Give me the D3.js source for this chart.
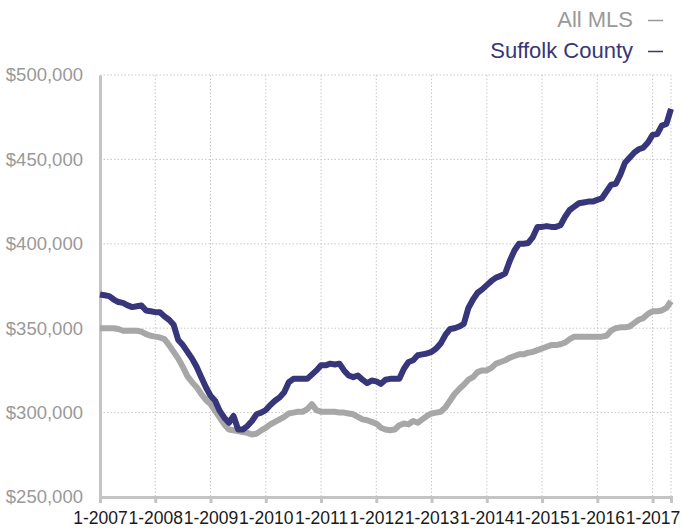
<!DOCTYPE html>
<html>
<head>
<meta charset="utf-8">
<script src="https://cdn.jsdelivr.net/npm/d3@7"></script>
<style>
  body { margin: 0; background: #fff; }
  svg { display: block; font-family: "Liberation Sans", Arial, sans-serif; }
  .grid line { stroke: #c8c8c8; stroke-width: 1; stroke-dasharray: 1.5,2; }
</style>
</head>
<body>
<svg id="chart"></svg>
<script>
const width = 682;
const height = 531;

// monthly median price, Jan 2007 .. May 2017 (in $1000s)
const suffolk = [
  370, 369.5, 369, 367, 365.5, 365, 363.5, 362.5, 363, 363.5, 360.5, 360,
  359.5, 359.5, 357, 355, 352, 343, 340, 336, 332, 327, 321, 315,
  310, 307, 301, 297, 294, 298, 290, 290, 292, 295, 299, 300,
  301.5, 304.5, 307, 309, 312, 318, 320, 320, 320, 320, 322.5, 325,
  328, 328, 329, 328.5, 329, 325, 322, 321, 322, 319.5, 317.5, 319,
  318.5, 317, 319.5, 320, 320, 320, 326, 330, 331, 334, 334.5, 335,
  336, 338, 341, 346, 349.5, 350, 351, 352.5, 362, 367, 371, 373,
  375.5, 378, 380, 381, 382.5, 390, 396, 400, 400, 400.5, 404, 410,
  410, 410.5, 410, 410, 411, 416, 420, 422, 424, 424.5, 425, 425,
  426, 427, 431, 435, 435.5, 441, 448, 451, 454, 456, 457, 460,
  464.5, 465, 470, 471, 480
];
const allMls = [
  350, 350, 350, 350, 349.5, 348.5, 348.5, 348.5, 348.5, 348, 346.5, 345.5,
  345, 344.5, 343.5, 340, 336, 332, 327, 321.5, 318, 315, 311, 307.5,
  305, 301, 297, 293, 290, 289.5, 289, 288.5, 288, 287, 287.5, 289.5,
  291, 293, 294.5, 296, 297.5, 299.5, 300, 300.5, 300.5, 302, 305, 301.5,
  300.5, 300.5, 300.5, 300.5, 300, 300, 299.5, 299, 297.5, 296, 295.5, 294.5,
  293.5, 291, 290, 289.5, 290, 292.5, 293.5, 293, 295, 294, 296, 298,
  299.5, 300, 300.5, 303, 307, 311, 314, 316.5, 319.5, 321, 324, 325,
  325, 326.5, 329, 330, 331, 332.5, 333.5, 334.5, 334.5, 335.5, 336, 337,
  338, 339, 340, 340, 340.5, 341.5, 343.5, 345, 345, 345, 345, 345,
  345, 345, 345.5, 348.5, 350, 350.5, 350.5, 351, 353, 355, 356, 358.5,
  360, 360, 360.5, 362, 366
];
const years = [2007, 2008, 2009, 2010, 2011, 2012, 2013, 2014, 2015, 2016, 2017];
const yTicks = [250000, 300000, 350000, 400000, 450000, 500000];
const seriesNames = ["All MLS", "Suffolk County"];
const colors = ["#a7a7a7", "#37367a"];

const margin = { top: 75, right: 11, bottom: 34, left: 100 };

const svg = d3.select('#chart')
  .attr('width', width)
  .attr('height', height);

const x = d3.scaleLinear()
  .domain([0, suffolk.length - 1])
  .range([margin.left, width - margin.right]);

const y = d3.scaleLinear()
  .domain([250000, 500000])
  .range([height - margin.bottom, margin.top]);

const yearIdx = years.map((yr, i) => i * 12);

// grid
const grid = svg.append('g').attr('class', 'grid');
grid.selectAll('.hg')
  .data(yTicks.slice(1))
  .enter().append('line')
  .attr('x1', margin.left).attr('x2', width - margin.right)
  .attr('y1', d => y(d)).attr('y2', d => y(d));
grid.selectAll('.vg')
  .data(yearIdx.slice(1).concat([suffolk.length - 1]))
  .enter().append('line')
  .attr('x1', d => x(d)).attr('x2', d => x(d))
  .attr('y1', margin.top).attr('y2', height - margin.bottom);

// x axis
const xAxis = svg.append('g')
  .attr('transform', `translate(0, ${height - margin.bottom})`)
  .call(d3.axisBottom(x)
    .tickValues(yearIdx)
    .tickFormat((d, i) => `1-${years[i]}`)
    .tickSize(6)
    .tickPadding(9));
xAxis.select('.domain').attr('stroke', '#c4c4c4').attr('stroke-width', 3);
xAxis.selectAll('.tick line').attr('stroke', '#c4c4c4').attr('stroke-width', 3);
xAxis.selectAll('.tick text')
  .attr('font-size', 17.5)
  .attr('font-family', '"Liberation Sans", Arial, sans-serif')
  .attr('fill', '#1a1a1a');

// y axis
const yAxis = svg.append('g')
  .attr('transform', `translate(${margin.left}, 0)`)
  .call(d3.axisLeft(y)
    .tickValues(yTicks)
    .tickFormat(d => '$' + d3.format(',')(d))
    .tickSize(0)
    .tickPadding(17));
yAxis.select('.domain').attr('stroke', '#c4c4c4').attr('stroke-width', 3);
yAxis.selectAll('.tick text')
  .attr('font-size', 18.5)
  .attr('font-family', '"Liberation Sans", Arial, sans-serif')
  .attr('fill', '#999');

// lines
const line = d3.line()
  .x((d, i) => x(i))
  .y(d => y(d * 1000));

[allMls, suffolk].forEach((s, k) => {
  svg.append('path')
    .datum(s)
    .attr('fill', 'none')
    .attr('stroke', colors[k])
    .attr('stroke-width', 6)
    .attr('stroke-linejoin', 'round')
    .attr('stroke-linecap', 'butt')
    .attr('d', line);
});

// legend
const legend = svg.append('g');
seriesNames.forEach((name, k) => {
  const ly = 27 + k * 31;
  legend.append('text')
    .attr('x', 633).attr('y', ly)
    .attr('text-anchor', 'end')
    .attr('font-size', 22)
    .attr('fill', k === 0 ? '#999' : colors[1])
    .text(name);
  legend.append('line')
    .attr('x1', 648).attr('x2', 663)
    .attr('y1', ly - 6.5).attr('y2', ly - 6.5)
    .attr('stroke', k === 0 ? '#999' : colors[1])
    .attr('stroke-width', 1.5);
});
</script>
</body>
</html>
